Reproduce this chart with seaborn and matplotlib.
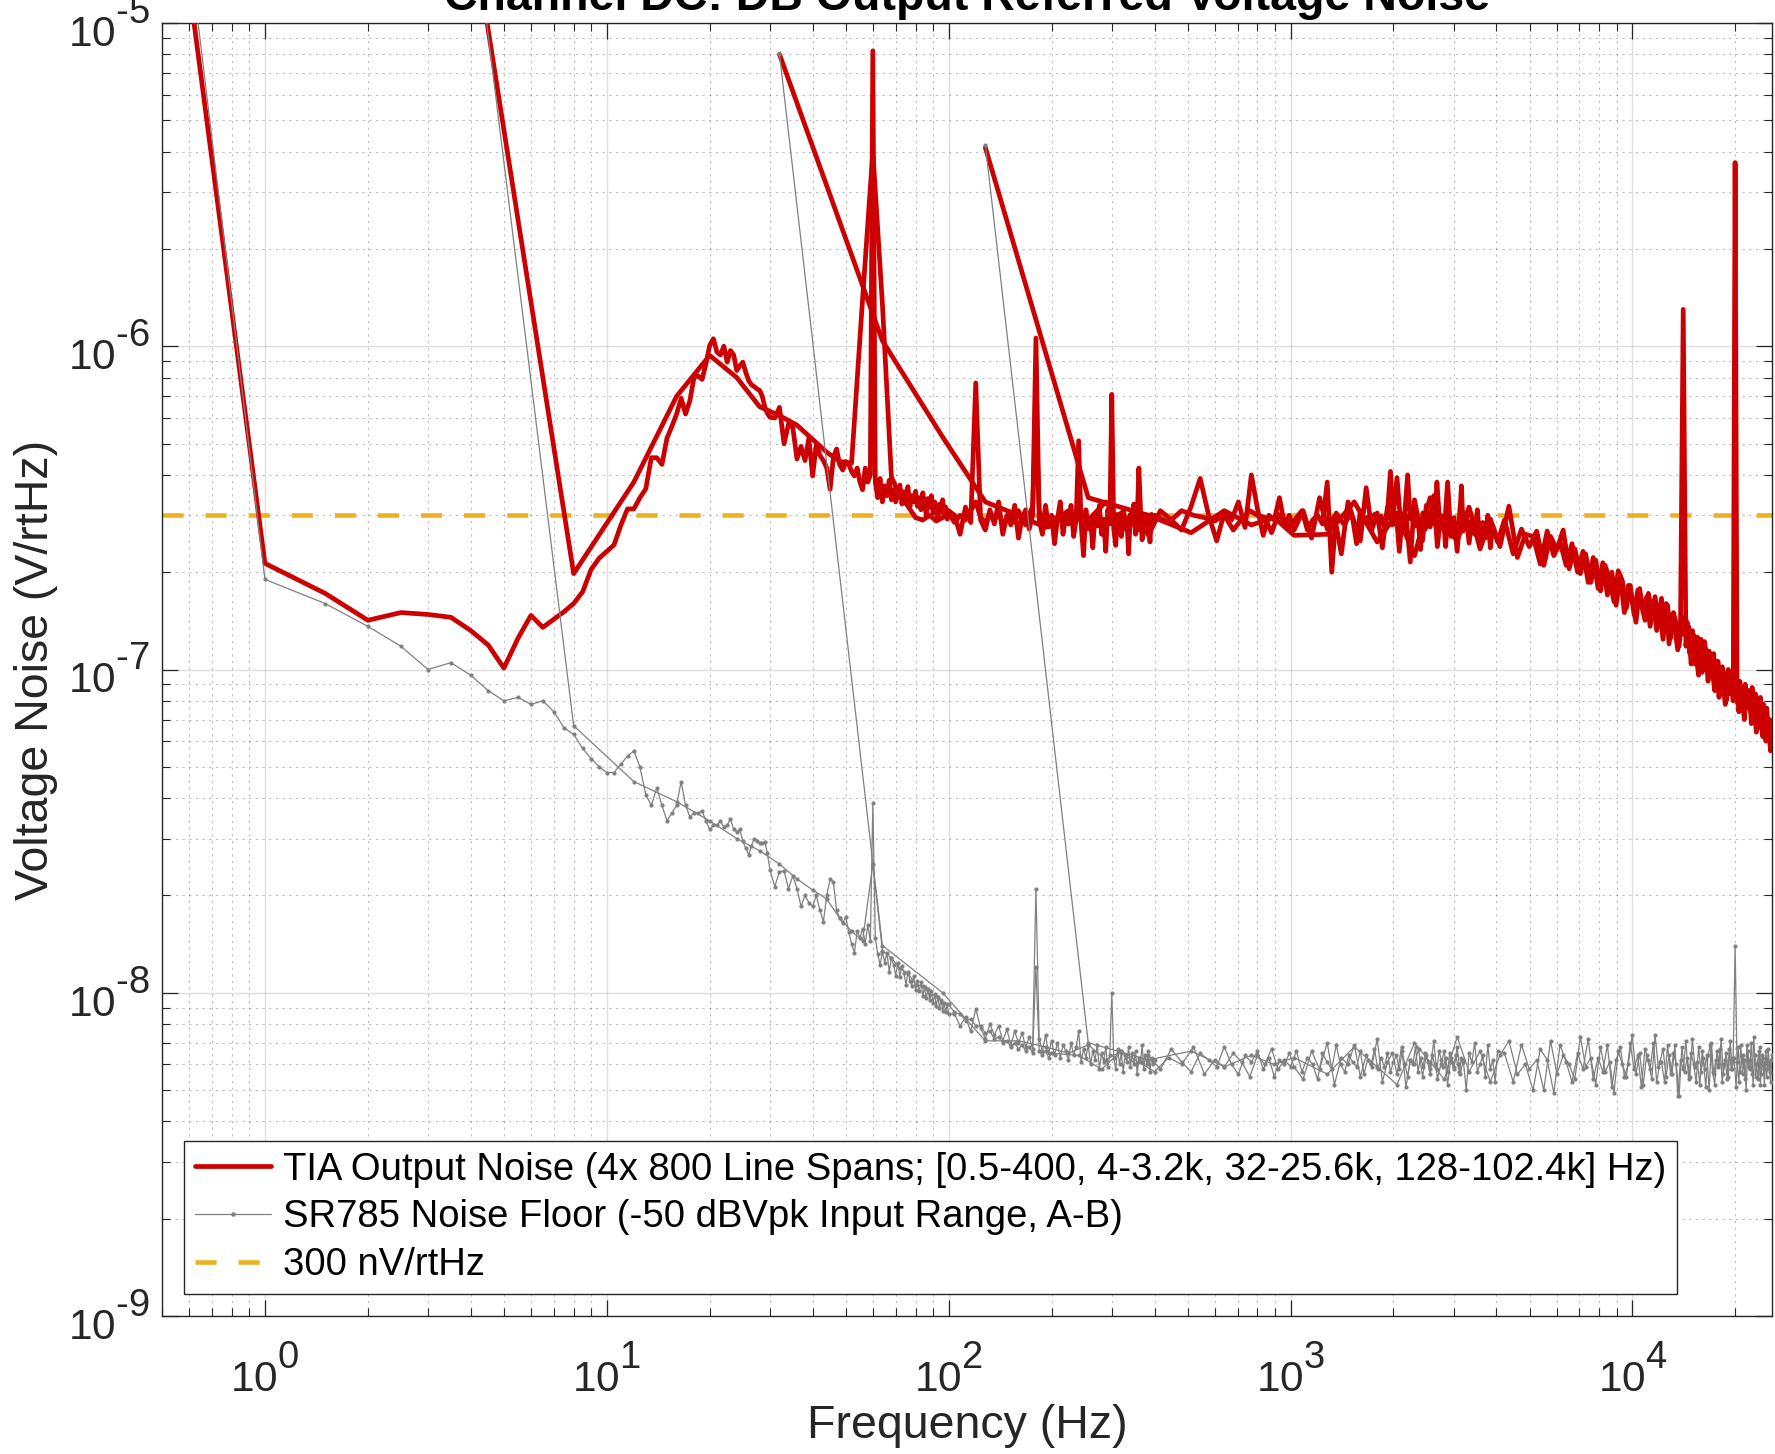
import numpy as np
import pandas as pd
import matplotlib
matplotlib.use("Agg")
import matplotlib.pyplot as plt
import matplotlib._mathtext as mathtext_internals
from matplotlib.lines import Line2D
from matplotlib.ticker import LogLocator, NullFormatter, FuncFormatter
import seaborn as sns

# Noise values in nV/rtHz.
# Each span is a list of (first bin Hz, bin step Hz, values) pieces.

# TIA output noise
RED_A1 = [
    57000, 213, 172, 142, 150, 148, 145, 132, 119, 101,
    125, 147, 135, 143, 151, 160, 174, 204, 221, 232,
    243, 280, 314, 314, 340, 362, 452, 452, 431, 520,
    565, 617, 690, 617, 679, 802, 810, 790, 883, 1006,
    1055, 959, 940, 1000, 893, 970, 940, 841, 870, 893,
    830, 783, 760, 750, 738, 730, 700, 647, 620, 603,
]
RED_A2 = [
    600, 647, 499, 575, 561, 448, 490, 443, 520, 397,
    499, 460, 443, 420, 361, 453, 481, 430, 414, 440,
    432, 410, 397, 420, 380, 360, 420, 380, 400, 8200,
    380, 340, 390, 330, 370, 345, 385, 335, 360, 330,
    350, 372, 325, 355, 338, 368, 318, 345, 330, 356,
    320, 340, 312, 352, 325, 300, 338, 318, 345, 305,
    330, 312, 290, 325, 308, 335, 300, 318, 292, 310,
]
RED_A3 = [
    300, 262, 318, 285, 770, 290, 270, 312, 282, 330,
    262, 300, 280, 322, 255, 295, 312, 272, 300, 1060,
    290, 262, 322, 276, 300, 245, 292, 330, 262, 300,
    282, 322, 258, 292, 510, 282, 225, 312, 272, 292,
    238, 302, 278, 322, 262, 292, 232, 312, 282, 710,
    272, 242, 302, 288, 258, 312, 272, 292, 228, 302,
    282, 325, 262, 292, 420, 312, 252, 288, 300, 268,
    292, 248, 302, 280, 296,
]
RED_B1 = [
    21000, 198, 380, 700, 937, 800, 650, 610, 570, 515,
    470, 440, 435, 1400, 4000, 1350, 394, 345, 320, 295,
    290, 300, 288, 295, 305, 285, 300, 290, 310, 330,
    295, 285, 300, 290, 305, 280, 295, 300, 285, 310,
    290, 280, 300, 320, 600, 310, 290, 300, 285, 295,
]
RED_B2 = [
    292, 280, 305, 270, 300, 285, 310, 300, 295, 288,
    300, 270, 292, 310, 300, 296, 265, 302, 288, 276,
    295, 310, 270, 290, 300, 282, 380, 200, 305, 290,
    280, 300, 292, 245, 310, 288, 296, 270, 302, 285,
    298, 276, 305, 410, 282, 300, 232, 295, 308, 400,
    292, 300, 278, 296, 235, 305, 272, 290, 298, 282,
    290, 380, 300, 285, 295, 240, 288, 292, 280, 275,
    283, 258, 286, 370, 268,
]
RED_C1 = [
    8000, 1040, 524, 330, 300, 275, 310, 290, 330, 280,
    300, 260, 310, 290, 270, 320, 390, 300, 250, 305,
    290, 330, 275, 400, 315, 260, 300, 290, 340, 280,
    300, 270,
]
RED_C2 = [
    310, 255, 340, 272, 298, 228, 330, 286, 250, 365,
    270, 305, 238, 318, 280, 392, 262, 300, 215, 335,
    288, 250, 322, 276, 345, 240, 300, 268, 380, 258,
    295, 232, 318, 270, 305, 246, 290, 262, 312, 240,
    285, 255, 300, 238, 278, 262, 248,
]
RED_C3 = [
    290, 228, 272, 240, 268, 210, 258, 235, 270, 205,
    236, 198, 228, 186, 218, 175, 210, 190, 162, 202,
    188, 155, 182, 148, 176, 160, 142, 172, 150, 168,
    140, 166, 132, 158, 125, 150, 138, 118, 146, 128,
    140, 112, 132, 104, 126, 116, 98, 122, 104, 114,
    96, 112, 90, 106, 84, 102, 92, 80, 100, 88,
    98, 82, 94, 78, 92, 84, 74, 90, 80, 86,
    74, 88, 70, 84, 76, 66, 82, 72, 78, 64,
    76, 66, 70, 62,
]
RED_D1 = [4120, 340, 300, 265, 310, 280, 295, 260]
RED_D2 = [
    262, 330, 248, 305, 225, 340, 280, 250, 318, 236,
    292, 240, 320, 222, 262, 258, 212, 268, 225, 248,
    210, 245, 200, 232, 186, 222, 178, 214, 170, 200,
    158, 195, 150, 182, 165, 140, 178, 150, 168, 136,
    162, 132, 152, 124, 160, 120, 148, 134, 115, 140,
    1300, 118, 136, 104, 128, 110, 96, 124, 100, 116,
    92, 110, 98, 86, 106, 82, 100, 90, 78, 98,
    84, 96, 80, 3700, 92, 74, 88, 80, 70, 86,
    76, 86, 68, 82, 74, 64, 80, 70, 76, 62,
    74, 60, 70, 64, 56, 66,
]

# SR785 noise floor
GRAY_A1 = [
    85000, 190, 160, 136, 118, 100, 105, 96, 86, 80,
    82, 78, 80, 74, 66, 63, 57, 53, 50, 48,
    48, 51, 54, 56, 50, 41, 38, 43, 38, 34,
    36, 38, 45, 38, 35, 36, 36, 36.5, 34, 32,
    33, 33, 34, 32.5, 33, 34.5, 32, 31.5, 32, 29.4,
    28, 26.7, 28.5, 30, 29.5, 29, 29, 29.3, 27, 24,
]
GRAY_A2 = [
    21.3, 23.7, 23.8, 21, 23, 21, 18.5, 20, 19, 18.5,
    20, 18, 16.6, 20, 22.5, 22, 18, 17, 16.4, 17.2,
    15.4, 14.2, 13.3, 15.5, 14.8, 15.8, 14.2, 16.2, 14.5, 38.5,
    14.8, 13.2, 12.2, 13.4, 12.4, 13.3, 11.6, 12.8, 12.2, 11.3,
    12.4, 11.2, 12.1, 11.5, 10.6, 11.6, 10.9, 10.5, 11.3, 10.2,
    10.9, 10.1, 10.8, 9.8, 10.4, 9.6, 10.3, 9.5, 10.1, 9.3,
    9.9, 9.1, 9.7, 9.0, 9.5, 8.8, 9.3, 8.7, 9.2, 8.6,
]
GRAY_A3 = [
    8.6, 7.9, 8.4, 7.6, 8.9, 7.8, 7.2, 8.0, 7.4, 7.9,
    7.1, 7.7, 6.9, 7.6, 7.0, 7.5, 6.8, 7.3, 6.7, 21,
    7.2, 6.6, 7.4, 6.5, 7.1, 6.4, 7.0, 6.3, 6.9, 6.6,
    6.2, 7.0, 6.4, 6.8, 7.6, 6.1, 6.7, 6.3, 6.9, 6.0,
    6.6, 6.2, 6.9, 5.8, 6.5, 6.1, 6.8, 5.9, 6.4, 10,
    6.3, 5.8, 6.7, 6.0, 6.5, 5.7, 6.4, 6.1, 6.8, 5.9,
    6.5, 6.0, 6.6, 5.6, 6.3, 6.1, 6.9, 5.8, 6.4, 6.0,
    6.6, 5.7, 6.3, 6.0, 6.2,
]
GRAY_B1 = [
    25000, 67, 45, 39, 34, 30, 27.5, 25, 22.5, 20.8,
    19.5, 17, 15.5, 14.5, 25, 13.5, 12.8, 11.9, 11.5, 10.6,
    10.5, 9.9, 9.8, 9.3, 9.2, 8.7, 8.6, 8.2, 8.3, 7.9,
    7.9, 7.5, 7.6, 7.2, 7.3, 7.0, 7.1, 6.8, 7.0, 6.7,
    6.9, 6.6, 6.8, 6.5, 12, 6.6, 6.4, 6.6, 6.3, 6.5,
]
GRAY_B2 = [
    6.4, 5.8, 6.6, 6.1, 5.7, 6.3, 6.0, 6.8, 5.6, 6.2,
    5.9, 6.5, 6.1, 5.5, 6.4, 6.0, 6.7, 5.8, 6.2, 5.9,
    6.6, 5.7, 6.3, 6.0, 5.4, 6.5, 6.1, 5.8, 6.9, 6.0,
    5.7, 6.4, 6.1, 5.9, 6.6, 5.6, 6.2, 6.0, 6.7, 5.8,
    6.3, 5.9, 6.5, 5.7, 6.1, 6.4, 5.8, 6.6, 6.0, 5.5,
    6.2, 6.0, 6.8, 5.7, 6.3, 5.9, 6.5, 6.1, 5.6, 6.4,
    6.0, 5.8, 6.6, 6.2, 5.9, 6.3, 5.7, 6.5, 6.1, 5.8,
    6.4, 6.0, 5.7, 6.3, 6.1,
]
GRAY_C1 = [
    8000, 14, 10, 7.1, 7.1, 6.8, 6.5, 6.9, 6.2, 6.6,
    6.0, 6.4, 5.8, 6.7, 6.1, 5.7, 6.5, 6.2, 5.9, 6.8,
    6.0, 5.6, 6.4, 6.1, 6.6, 5.8, 6.3, 5.5, 6.2, 6.0,
    6.5, 5.9,
]
GRAY_C2 = [
    5.4, 6.6, 5.8, 7.0, 5.2, 6.3, 6.0, 6.9, 5.5, 6.4,
    5.9, 7.2, 5.3, 6.1, 6.5, 5.6, 6.8, 5.1, 6.2, 6.0,
    6.7, 5.5, 6.4, 5.8, 7.1, 5.4, 6.0, 6.6, 5.2, 6.3,
    5.9, 6.8, 5.6, 6.2, 5.0, 6.5, 6.1, 7.0, 5.7, 6.0,
    6.4, 5.5, 6.9, 5.8, 6.2, 5.3, 6.6,
]
GRAY_C3 = [
    6.5, 5.3, 6.9, 5.8, 6.2, 5.0, 7.1, 5.6, 6.4, 6.0,
    5.4, 7.3, 5.9, 6.3, 5.2, 6.8, 5.7, 6.1, 4.9, 6.6,
    6.0, 5.5, 7.0, 5.8, 6.4, 5.1, 6.7, 6.2, 5.4, 7.4,
    5.9, 6.1, 5.3, 6.9, 5.6, 6.5, 6.0, 4.8, 6.8, 5.7,
    6.3, 5.5, 7.2, 5.9, 6.1, 5.2, 6.6, 5.8, 6.4, 5.0,
    7.0, 5.6, 6.2, 5.9, 6.7, 5.3, 6.0, 6.5, 5.5, 7.1,
    5.8, 6.3, 5.1, 6.8, 5.7, 6.1, 6.4, 5.4, 6.9, 5.9,
    6.2, 5.6, 7.3, 5.5, 6.0, 6.6, 5.2, 6.4, 5.8, 6.1,
    5.5, 6.7, 5.7, 6.2,
]
GRAY_D1 = [4200, 7.0, 6.2, 6.6, 5.9, 6.4, 6.0, 6.3]
GRAY_D2 = [
    5.6, 6.8, 5.9, 5.2, 7.0, 6.1, 5.4, 7.3, 5.7, 6.6,
    5.3, 6.4, 7.1, 5.6, 6.0, 5.0, 6.7, 6.2, 4.9, 6.9,
    6.1, 5.3, 6.5, 5.8, 7.2, 5.4, 6.3, 5.7, 6.9, 5.1,
    6.2, 6.8, 5.5, 6.0, 7.4, 5.6, 6.5, 5.2, 6.4, 5.8,
    7.0, 5.3, 6.1, 6.7, 5.5, 6.4, 5.6, 6.9, 4.8, 6.2,
    5.8, 7.1, 5.4, 6.5, 6.0, 5.3, 6.8, 5.7, 6.3, 5.1,
    6.4, 6.9, 5.7, 5.2, 6.6, 6.0, 7.2, 5.6, 6.2, 5.4,
    6.7, 5.8, 6.3, 14.0, 6.1, 5.3, 6.9, 5.6, 6.2, 5.0,
    6.6, 5.8, 7.0, 5.2, 6.4, 6.0, 5.4, 6.8, 5.6, 6.3,
    5.2, 6.6, 5.8, 6.1, 5.3, 6.4,
]

RED_SPANS = {
    "A": [(0.5, 0.5, RED_A1), (31, 1, RED_A2), (104, 4, RED_A3)],
    "B": [(4, 4, RED_B1), (240, 40, RED_B2)],
    "C": [(32, 32, RED_C1), (1088, 64, RED_C2), (4224, 256, RED_C3)],
    "D": [(128, 128, RED_D1), (1280, 256, RED_D2)],
}
GRAY_SPANS = {
    "A": [(0.5, 0.5, GRAY_A1), (31, 1, GRAY_A2), (104, 4, GRAY_A3)],
    "B": [(4, 4, GRAY_B1), (240, 40, GRAY_B2)],
    "C": [(32, 32, GRAY_C1), (1088, 64, GRAY_C2), (4224, 256, GRAY_C3)],
    "D": [(128, 128, GRAY_D1), (1280, 256, GRAY_D2)],
}

REF_FREQ = [0.5, 25600]
REF_LEVEL = [300, 300]

LABELS = [
    "TIA Output Noise (4x 800 Line Spans; [0.5-400, 4-3.2k, 32-25.6k, 128-102.4k] Hz)",
    "SR785 Noise Floor (-50 dBVpk Input Range, A-B)",
    "300 nV/rtHz",
]


def spans_to_frame(spans):
    parts = []
    for name, pieces in spans.items():
        for f0, step, vals in pieces:
            v = np.asarray(vals, dtype=float)
            parts.append(pd.DataFrame({
                "span": name,
                "freq": f0 + step * np.arange(len(v)),
                "noise": v * 1e-9,
            }))
    return pd.concat(parts, ignore_index=True)


def decade_label(val, pos):
    # 10^n with a plain hyphen for the sign, as MATLAB prints it
    e = int(round(np.log10(val)))
    exp = str(e) if e >= 0 else r"\text{-}" + str(-e)
    return r"$\mathdefault{10^{" + exp + "}}$"


red_df = spans_to_frame(RED_SPANS)
gray_df = spans_to_frame(GRAY_SPANS)
ref_df = pd.DataFrame({"freq": REF_FREQ, "noise": np.array(REF_LEVEL) * 1e-9})

RED = "#CC0000"
GRAY = "#808080"
YELLOW = "#EDB120"
INK = "#262626"

sns.set_style("ticks")
plt.rcParams["font.family"] = ["Liberation Sans", "DejaVu Sans"]
plt.rcParams["mathtext.fontset"] = "custom"
plt.rcParams["mathtext.rm"] = "Liberation Sans"
plt.rcParams["mathtext.it"] = "Liberation Sans:italic"
plt.rcParams["mathtext.bf"] = "Liberation Sans:bold"
# MATLAB draws the exponents almost full size and well raised
mathtext_internals.SHRINK_FACTOR = 0.9
mathtext_internals.FontConstantsBase.sup1 = 1.0

fig, ax = plt.subplots(figsize=(17.75, 14.54), dpi=100)
fig.subplots_adjust(left=162 / 1775, right=1772 / 1775,
                    bottom=1 - 1316 / 1454, top=1 - 23 / 1454)

sns.lineplot(data=ref_df, x="freq", y="noise", color=YELLOW, lw=3.3,
             sort=False, estimator=None, ax=ax, zorder=2)
ax.lines[-1].set_linestyle((0, (4.6, 4.8)))
sns.lineplot(data=red_df, x="freq", y="noise", units="span", estimator=None,
             sort=False, color=RED, lw=3.4, ax=ax, zorder=3)
sns.lineplot(data=gray_df, x="freq", y="noise", units="span", estimator=None,
             sort=False, color=GRAY, lw=0.9, marker=".", ms=4.5, mec=GRAY,
             ax=ax, zorder=4)

ax.set_xscale("log")
ax.set_yscale("log")
ax.set_xlim(0.5, 25600)
ax.set_ylim(1e-9, 1e-5)

for axis in (ax.xaxis, ax.yaxis):
    axis.set_major_locator(LogLocator(base=10, numticks=20))
    axis.set_minor_locator(LogLocator(base=10, subs=np.arange(2, 10), numticks=20))
    axis.set_major_formatter(FuncFormatter(decade_label))
    axis.set_minor_formatter(NullFormatter())

ax.grid(which="major", color=INK, alpha=0.15, lw=1.0)
ax.grid(which="minor", color=INK, alpha=0.3, lw=0.8, ls=(0, (2, 4)))
ax.set_axisbelow(True)

ax.tick_params(which="both", direction="in", top=True, right=True,
               color=INK, labelcolor=INK, labelsize=30.5)
ax.tick_params(which="major", length=11.5, width=0.9)
ax.tick_params(which="minor", length=5.8, width=0.8)
ax.tick_params(axis="x", which="major", pad=21)
ax.tick_params(axis="y", which="major", pad=9)
for spine in ax.spines.values():
    spine.set_color(INK)
    spine.set_linewidth(1.0)

ax.set_xlabel("Frequency (Hz)", fontsize=33.5, color=INK)
ax.set_ylabel("Voltage Noise (V/rtHz)", fontsize=33.5, color=INK)
ax.xaxis.set_label_coords(0.5, -0.068)
ax.yaxis.set_label_coords(-0.0646, 0.5)

fig.text(967 / 1775, 1 - 9.5 / 1454, "Channel DC: DB Output Referred Voltage Noise",
         ha="center", va="baseline", fontsize=33.5, fontweight="bold", color="black")

handles = [
    Line2D([], [], color=RED, lw=3.4),
    Line2D([], [], color=GRAY, lw=0.9, marker=".", ms=4.5),
    Line2D([], [], color=YELLOW, lw=3.3, ls=(0, (4.6, 4.8))),
]
leg = ax.legend(handles, LABELS, loc="lower left", bbox_to_anchor=(0.0137, 0.017),
                borderaxespad=0, fontsize=27.5, frameon=True, fancybox=False,
                framealpha=1, edgecolor=INK, handlelength=2.0, handletextpad=0.3,
                labelspacing=0.31, borderpad=0.28, numpoints=1)
leg.get_frame().set_linewidth(1.0)
for t in leg.get_texts():
    t.set_color("black")

fig.savefig("out.png", dpi=100)
